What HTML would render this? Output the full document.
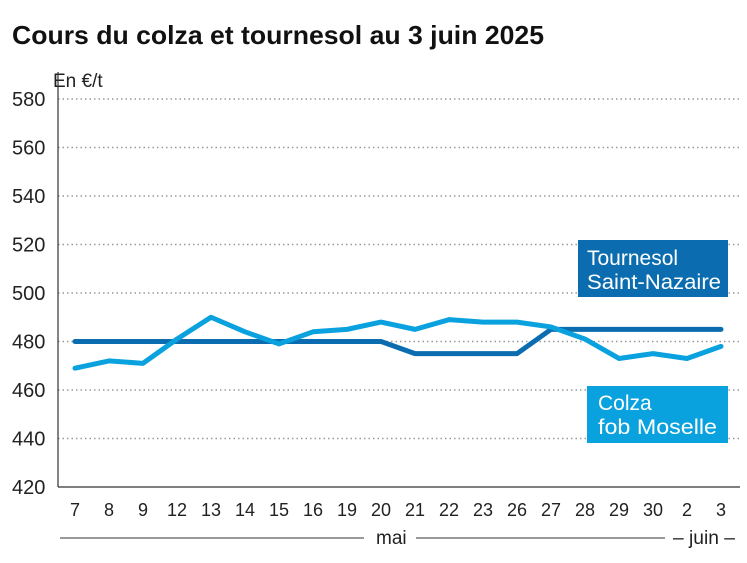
<!DOCTYPE html>
<html><head><meta charset="utf-8"><style>
body{margin:0;background:#fff;font-family:"Liberation Sans",sans-serif;}
</style></head><body>
<svg width="747" height="558" xmlns="http://www.w3.org/2000/svg" style="font-family:'Liberation Sans',sans-serif">
<text x="12" y="44" font-size="26" font-weight="bold" fill="#111" textLength="532" lengthAdjust="spacingAndGlyphs">Cours du colza et tournesol au 3 juin 2025</text>
<text x="53" y="87" font-size="19" fill="#222">En €/t</text>
<g id="grid"></g><g id="yt"></g><g id="xt"></g><g id="lines"></g>
<line x1="58" y1="72" x2="58" y2="487" stroke="#333" stroke-width="1.2"/>
<line x1="58" y1="487" x2="740" y2="487" stroke="#333" stroke-width="1.2"/>
<line x1="60" y1="538" x2="364" y2="538" stroke="#333" stroke-width="1"/>
<text x="376" y="544" font-size="19" fill="#222">mai</text>
<line x1="416" y1="538" x2="665" y2="538" stroke="#333" stroke-width="1"/>
<text x="673" y="544" font-size="19" fill="#222" textLength="62" lengthAdjust="spacingAndGlyphs">– juin –</text>
<rect x="578" y="240" width="150" height="57" fill="#0b6db0"/>
<text x="587" y="265" font-size="21" fill="#fff">Tournesol</text>
<text x="587" y="289" font-size="21" fill="#fff" textLength="134" lengthAdjust="spacingAndGlyphs">Saint-Nazaire</text>
<rect x="587" y="386" width="141" height="57" fill="#0aa2de"/>
<text x="598" y="410" font-size="21" fill="#fff">Colza</text>
<text x="598" y="434" font-size="21" fill="#fff" textLength="119" lengthAdjust="spacingAndGlyphs">fob Moselle</text>
</svg>
<script>
const categories=["7","8","9","12","13","14","15","16","19","20","21","22","23","26","27","28","29","30","2","3"];
const tournesol=[480,480,480,480,480,480,480,480,480,480,475,475,475,475,485,485,485,485,485,485];
const colza=[469,472,471,481,490,484,479,484,485,488,485,489,488,488,486,481,473,475,473,478];
const yTicks=[420,440,460,480,500,520,540,560,580];
const NS="http://www.w3.org/2000/svg";
const y=v=>487-(v-420)*388/160;
const x=i=>75+i*(721-75)/(categories.length-1);
function mk(t,a,p){const e=document.createElementNS(NS,t);for(const k in a)e.setAttribute(k,a[k]);document.getElementById(p).appendChild(e);return e;}
yTicks.forEach(v=>{
 if(v>420){const g=mk("line",{x1:58,x2:740,y1:y(v),y2:y(v),stroke:"#999","stroke-width":1.5,"stroke-dasharray":"1.5 3"},"grid");
 
 }
 const t=mk("text",{x:12,y:y(v)+7,"font-size":20,fill:"#222"},"yt");t.textContent=v;
 
 
});
categories.forEach((c,i)=>{const t=mk("text",{x:x(i),y:516,"font-size":18,fill:"#222","text-anchor":"middle"},"xt");t.textContent=c;
 
 });
function line(d,col,name){const p=mk("polyline",{points:d.map((v,i)=>x(i)+","+y(v)).join(" "),fill:"none",stroke:col,"stroke-width":5,"stroke-linejoin":"round","stroke-linecap":"round"},"lines");
 
 }
line(tournesol,"#0b6db0","tournesol-line");
line(colza,"#0aa2de","colza-line");
</script>
</body></html>
